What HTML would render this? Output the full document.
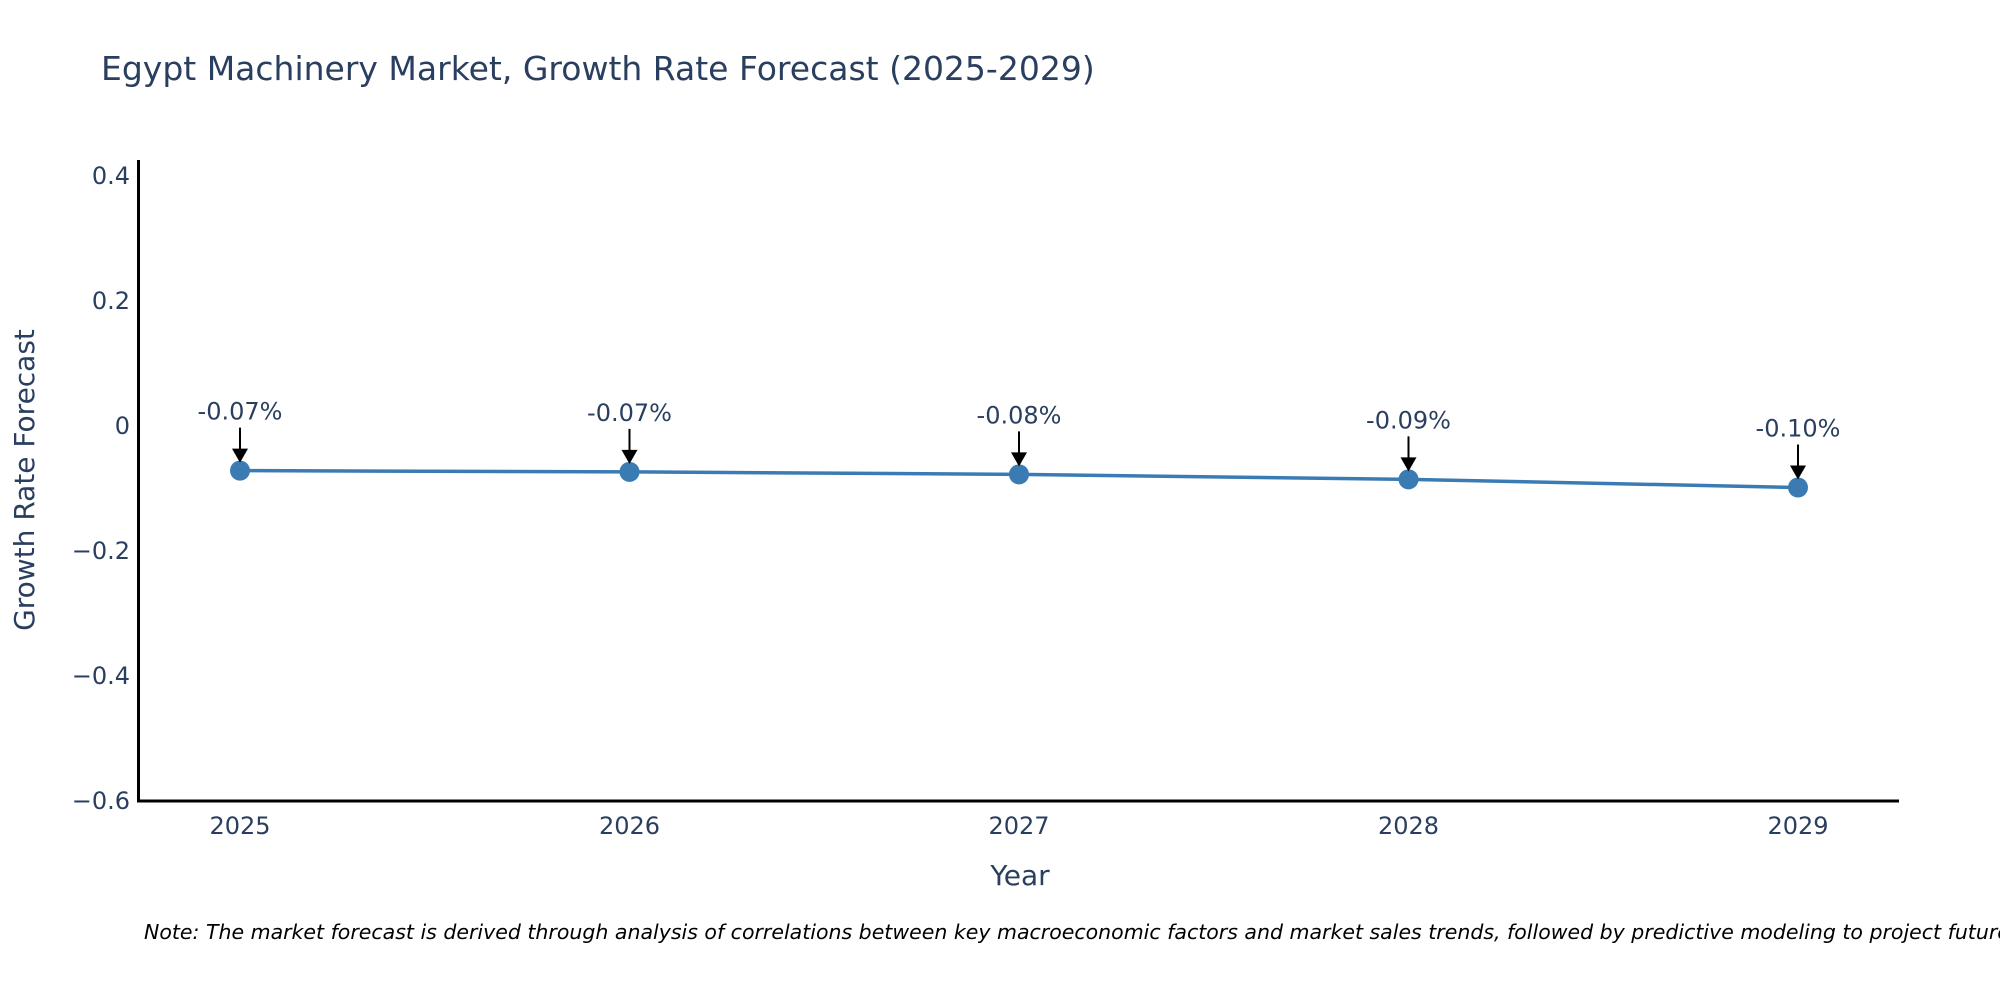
<!DOCTYPE html>
<html><head><meta charset="utf-8"><style>
body{margin:0;background:#fff;overflow:hidden;}
svg{display:block;font-family:"DejaVu Sans","Liberation Sans",sans-serif;}
</style></head><body>
<svg id="chart" width="2000" height="1000" viewBox="0 0 2000 1000">
<text x="101" y="80" font-size="33" fill="#2a3f5f">Egypt Machinery Market, Growth Rate Forecast (2025-2029)</text>
<g id="yticks"></g>
<g id="xticks"></g>
<line x1="138.5" y1="160" x2="138.5" y2="802" stroke="#000" stroke-width="3"/>
<line x1="137" y1="801" x2="1899" y2="801" stroke="#000" stroke-width="3"/>
<text x="34" y="480" font-size="28" fill="#2a3f5f" text-anchor="middle" transform="rotate(-90 34 480)">Growth Rate Forecast</text>
<text x="1020" y="885" font-size="28" fill="#2a3f5f" text-anchor="middle">Year</text>
<g id="series"></g>
<text x="144" y="939" font-size="20.5" font-style="italic" fill="#000">Note: The market forecast is derived through analysis of correlations between key macroeconomic factors and market sales trends, followed by predictive modeling to project future sales.</text>
</svg>
<script>
const years = ["2025","2026","2027","2028","2029"];
const values = [-0.073, -0.075, -0.079, -0.087, -0.10];
const labels = ["-0.07%","-0.07%","-0.08%","-0.09%","-0.10%"];
const yTickValues = [0.4, 0.2, 0, -0.2, -0.4, -0.6];
const yTickLabels = ["0.4","0.2","0","\u22120.2","\u22120.4","\u22120.6"];

const NS="http://www.w3.org/2000/svg";
function yScale(v){return 425 - v*625;}
function xScale(i){return 240 + i*(1798-240)/(years.length-1);}
function mk(tag,attrs,parent){const e=document.createElementNS(NS,tag);for(const k in attrs)e.setAttribute(k,attrs[k]);parent.appendChild(e);return e;}

const yt=document.getElementById('yticks');
yTickValues.forEach((v,i)=>{
  const t=mk('text',{x:130,y:yScale(v)+9,'font-size':24,fill:'#2a3f5f','text-anchor':'end'},yt);
  
  
  t.textContent=yTickLabels[i];
});
const xt=document.getElementById('xticks');
years.forEach((y,i)=>{
  const t=mk('text',{x:xScale(i),y:834,'font-size':24,fill:'#2a3f5f','text-anchor':'middle'},xt);
  
  
  t.textContent=y;
});
const s=document.getElementById('series');
const pts=values.map((v,i)=>xScale(i)+','+yScale(v)).join(' ');
const pl=mk('polyline',{points:pts,fill:'none',stroke:'#3b7bb3','stroke-width':3.5},s);


values.forEach((v,i)=>{
  const x=xScale(i),y=yScale(v);
  const c=mk('circle',{cx:x,cy:y,r:10,fill:'#3b7bb3'},s);
  
  
  const a=mk('line',{x1:x,y1:y-43,x2:x,y2:y-20,stroke:'#000','stroke-width':2},s);
  
  
  const h=mk('polygon',{points:(x-8)+','+(y-22)+' '+(x+8)+','+(y-22)+' '+x+','+(y-8),fill:'#000'},s);
  
  
  const t=mk('text',{x:x,y:y-51,'font-size':24,fill:'#2a3f5f','text-anchor':'middle'},s);
  
  
  t.textContent=labels[i];
});
</script>
</body></html>
